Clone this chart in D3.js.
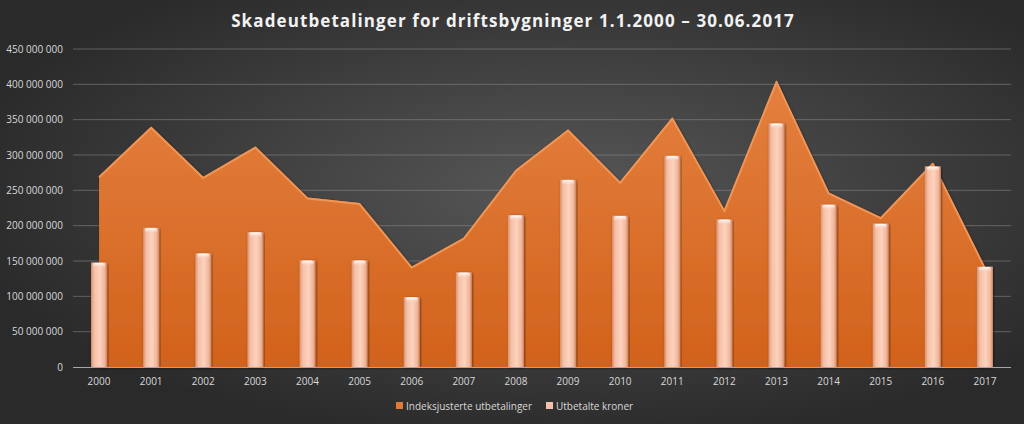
<!DOCTYPE html>
<html>
<head>
<meta charset="utf-8">
<script src="https://cdn.jsdelivr.net/npm/d3@7"></script>
<style>
  html, body { margin: 0; padding: 0; background: #333; }
  svg { display: block; }
</style>
</head>
<body>
<svg id="chart" width="1024" height="424"></svg>
<script>
// data (kroner)
const years = ['2000', '2001', '2002', '2003', '2004', '2005', '2006', '2007', '2008',
  '2009', '2010', '2011', '2012', '2013', '2014', '2015', '2016', '2017']
const indexed = [270, 340, 269, 312, 240, 232, 142, 183, 279,
  336, 262, 353, 222, 405, 247, 212, 289, 141].map(v => v * 1e6)
const paid = [148, 197, 161, 191, 151, 151, 99, 134, 215,
  265, 214, 299, 209, 345, 230, 203, 284, 142].map(v => v * 1e6)
const yTicks = [0, 50, 100, 150, 200, 250, 300, 350, 400, 450].map(v => v * 1e6)
const seriesNames = ['Indeksjusterte utbetalinger', 'Utbetalte kroner']

const width = 1024, height = 424
const margin = {top: 49, right: 13, bottom: 57, left: 73}
const innerW = width - margin.left - margin.right
const innerH = height - margin.top - margin.bottom

const svg = d3.select('#chart')
const defs = svg.append('defs')

// background
const bg = defs.append('radialGradient').attr('id', 'bg')
  .attr('cx', '0.55').attr('cy', '0.45').attr('r', '0.6')
bg.append('stop').attr('offset', '0%').attr('stop-color', '#575757')
bg.append('stop').attr('offset', '100%').attr('stop-color', '#2a2a2a')
svg.append('rect').attr('width', width).attr('height', height).attr('fill', 'url(#bg)')

const areaGrad = defs.append('linearGradient').attr('id', 'areaGrad')
  .attr('x1', 0).attr('y1', 0).attr('x2', 0).attr('y2', 1)
areaGrad.append('stop').attr('offset', '0%').attr('stop-color', '#e4803f')
areaGrad.append('stop').attr('offset', '100%').attr('stop-color', '#d2621b')

const barGrad = defs.append('linearGradient').attr('id', 'barGrad')
  .attr('x1', 0).attr('y1', 0).attr('x2', 1).attr('y2', 0)
barGrad.append('stop').attr('offset', '0%').attr('stop-color', '#d99374')
barGrad.append('stop').attr('offset', '20%').attr('stop-color', '#f6bfa4')
barGrad.append('stop').attr('offset', '55%').attr('stop-color', '#fcd3c0')
barGrad.append('stop').attr('offset', '85%').attr('stop-color', '#f2b597')
barGrad.append('stop').attr('offset', '100%').attr('stop-color', '#c98466')

const capGrad = defs.append('linearGradient').attr('id', 'capGrad')
  .attr('x1', 0).attr('y1', 0).attr('x2', 0).attr('y2', 1)
capGrad.append('stop').attr('offset', '0%').attr('stop-color', '#ffffff')
capGrad.append('stop').attr('offset', '100%').attr('stop-color', '#fcd3c0').attr('stop-opacity', 0)

const shadow = defs.append('filter').attr('id', 'shadow')
  .attr('x', '-10%').attr('y', '-10%').attr('width', '120%').attr('height', '120%')
shadow.append('feDropShadow').attr('dx', 1).attr('dy', 1).attr('stdDeviation', 1.5)
  .attr('flood-color', '#000').attr('flood-opacity', 0.45)

const g = svg.append('g').attr('transform', 'translate(' + margin.left + ',' + margin.top + ')')

const x = d3.scaleBand().domain(years).range([0, innerW])
const y = d3.scaleLinear().domain([0, 450e6]).range([innerH, 0])

const fmt = d3.formatLocale({decimal: ',', thousands: '\u00a0', grouping: [3], currency: ['', '']}).format(',')

// gridlines
g.append('g').selectAll('line')
  .data(yTicks.slice(1))
  .enter().append('line')
  .attr('x1', 0).attr('x2', innerW)
  .attr('y1', d => y(d)).attr('y2', d => y(d))
  .attr('stroke', '#8a8a8a').attr('stroke-opacity', 0.55).attr('stroke-width', 1)

// y labels
g.append('g').selectAll('text')
  .data(yTicks)
  .enter().append('text')
  .attr('x', -10).attr('y', d => y(d)).attr('dy', '0.35em')
  .attr('text-anchor', 'end')
  .attr('fill', '#d9d9d9')
  .style('font', '10px "Open Sans", sans-serif')
  .text(d => fmt(d))

// area
const cx = d => x(d) + x.bandwidth() / 2
const area = d3.area()
  .x((d, i) => cx(years[i]))
  .y0(innerH)
  .y1(d => y(d))
g.append('path').datum(indexed)
  .attr('d', area)
  .attr('fill', 'url(#areaGrad)')
  .attr('filter', 'url(#shadow)')
g.append('path').datum(indexed)
  .attr('d', d3.line().x((d, i) => cx(years[i])).y(d => y(d) + 1))
  .attr('fill', 'none')
  .attr('stroke', '#f19556').attr('stroke-width', 2).attr('stroke-linejoin', 'round')

// bars
const bw = 16
const bars = g.append('g').selectAll('g')
  .data(paid)
  .enter().append('g')
  .attr('filter', 'url(#shadow)')
bars.append('rect')
  .attr('x', (d, i) => cx(years[i]) - bw / 2)
  .attr('y', d => y(d))
  .attr('width', bw)
  .attr('height', d => innerH - y(d))
  .attr('fill', 'url(#barGrad)')
bars.append('rect')
  .attr('x', (d, i) => cx(years[i]) - bw / 2 + 2)
  .attr('y', d => y(d) + 0.5)
  .attr('width', bw - 4)
  .attr('height', 5)
  .attr('rx', 2)
  .attr('fill', 'url(#capGrad)')

// x axis
g.append('line')
  .attr('x1', 0).attr('x2', innerW)
  .attr('y1', innerH + 0.5).attr('y2', innerH + 0.5)
  .attr('stroke', '#a6a6a6').attr('stroke-width', 1)

g.append('g').selectAll('text')
  .data(years)
  .enter().append('text')
  .attr('x', d => cx(d)).attr('y', innerH + 18)
  .attr('text-anchor', 'middle')
  .attr('fill', '#d9d9d9')
  .style('font', '10px "Open Sans", sans-serif')
  .text(d => d)

// title
svg.append('text')
  .attr('x', 513).attr('y', 27)
  .attr('text-anchor', 'middle')
  .attr('fill', '#f2f2f2')
  .style('font', 'bold 17px "Open Sans", sans-serif')
  .style('letter-spacing', '1.1px')
  .text('Skadeutbetalinger for driftsbygninger 1.1.2000 \u2013 30.06.2017')

// legend
const legend = svg.append('g').attr('transform', 'translate(396,406)')
const legendColors = ['#e07a36', '#f4c0aa']
const items = legend.selectAll('g')
  .data(seriesNames)
  .enter().append('g')
  .attr('transform', (d, i) => 'translate(' + (i === 0 ? 0 : 150) + ',0)')
items.append('rect')
  .attr('x', 0).attr('y', -4).attr('width', 7).attr('height', 7)
  .attr('fill', (d, i) => legendColors[i])
items.append('text')
  .attr('x', 10).attr('dy', '0.35em')
  .attr('fill', '#d9d9d9')
  .style('font', '10px "Open Sans", sans-serif')
  .text(d => d)
</script>
</body>
</html>
